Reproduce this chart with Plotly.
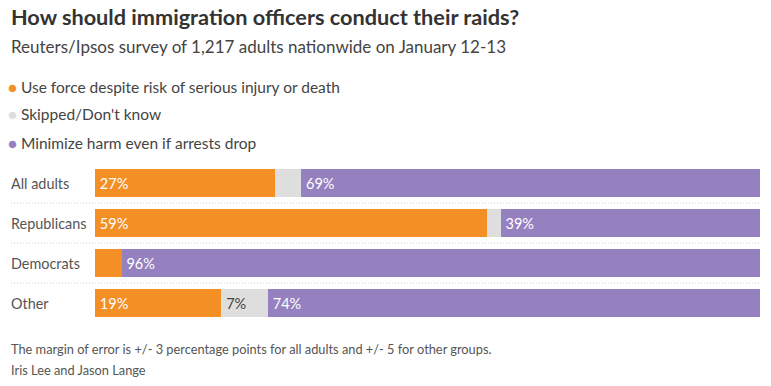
import plotly.graph_objects as go

categories = ["All adults", "Republicans", "Democrats", "Other"]
use_force = [27, 59, 4, 19]
skipped = [4, 2, 0, 7]
minimize = [69, 39, 96, 74]
force_labels = ["27%", "59%", "", "19%"]
skipped_labels = ["", "", "", "7%"]
minimize_labels = ["69%", "39%", "96%", "74%"]

series_names = ["Use force despite risk of serious injury or death",
                "Skipped/Don't know",
                "Minimize harm even if arrests drop"]
colors = ["#F48F26", "#DEDEDE", "#9581BF"]
label_colors = ["white", "#444444", "white"]

FONT = "Lato, 'Noto Sans', sans-serif"
W, H = 771, 386
L, R, T, B = 95, 11, 163, 63
pw = W - L - R
ph = H - T - B

fig = go.Figure()
for vals, labels, name, col, lc in zip([use_force, skipped, minimize],
                                       [force_labels, skipped_labels, minimize_labels],
                                       series_names, colors, label_colors):
    fig.add_trace(go.Bar(
        y=categories, x=vals, orientation="h", name=name,
        marker=dict(color=col, line=dict(width=0)),
        text=[("\u2009" + t) if t else "" for t in labels],
        textposition="inside", insidetextanchor="start",
        textfont=dict(color=lc, size=14.5, family=FONT),
        constraintext="none", cliponaxis=False,
        hoverinfo="skip", showlegend=False, width=0.72,
    ))

def py(pix):
    return 1 + (T - pix) / ph

def px(pix):
    return (pix - L) / pw

annotations = []
annotations.append(dict(text="<b>How should immigration officers conduct their raids?</b>",
                        xref="paper", yref="paper", x=px(9), y=py(17),
                        xanchor="left", yanchor="middle", showarrow=False,
                        font=dict(size=21.7, color="#333333", family=FONT)))
annotations.append(dict(text="Reuters/Ipsos survey of 1,217 adults nationwide on January 12-13",
                        xref="paper", yref="paper", x=px(9), y=py(47),
                        xanchor="left", yanchor="middle", showarrow=False,
                        font=dict(size=17, color="#444444", family=FONT)))
leg_y = [87, 114, 143]
for name, col, yy in zip(series_names, colors, leg_y):
    annotations.append(dict(text=f'<span style="color:{col};font-size:15px">●</span> {name}',
                            xref="paper", yref="paper", x=px(6), y=py(yy),
                            xanchor="left", yanchor="middle", showarrow=False,
                            font=dict(size=15.5, color="#444444", family=FONT)))
for i, c in enumerate(categories):
    annotations.append(dict(text=c, xref="paper", yref="y", x=px(9), y=c,
                            xanchor="left", yanchor="middle", showarrow=False,
                            font=dict(size=14.4, color="#555555", family=FONT)))
annotations.append(dict(text="The margin of error is +/- 3 percentage points for all adults and +/- 5 for other groups.",
                        xref="paper", yref="paper", x=px(9), y=py(349),
                        xanchor="left", yanchor="middle", showarrow=False,
                        font=dict(size=12.8, color="#555555", family=FONT)))
annotations.append(dict(text="Iris Lee and Jason Lange",
                        xref="paper", yref="paper", x=px(9), y=py(370),
                        xanchor="left", yanchor="middle", showarrow=False,
                        font=dict(size=12.8, color="#555555", family=FONT)))

shapes = []
for k in range(len(categories) - 1):
    shapes.append(dict(type="line", xref="paper", yref="y", x0=px(11), x1=1,
                       y0=k + 0.5, y1=k + 0.5,
                       line=dict(color="#CCCCCC", width=1, dash="1px,2px")))

fig.update_layout(
    width=W, height=H, barmode="stack",
    margin=dict(l=L, r=R, t=T, b=B),
    plot_bgcolor="white", paper_bgcolor="white",
    xaxis=dict(range=[0, 100], visible=False, fixedrange=True),
    yaxis=dict(categoryorder="array", categoryarray=categories, autorange="reversed",
               visible=False, fixedrange=True),
    annotations=annotations, shapes=shapes,
    font=dict(family=FONT),
)
fig.write_html("out.html", config={"displayModeBar": False},
               post_script="document.body.style.margin='0';document.body.style.overflow='hidden';")
